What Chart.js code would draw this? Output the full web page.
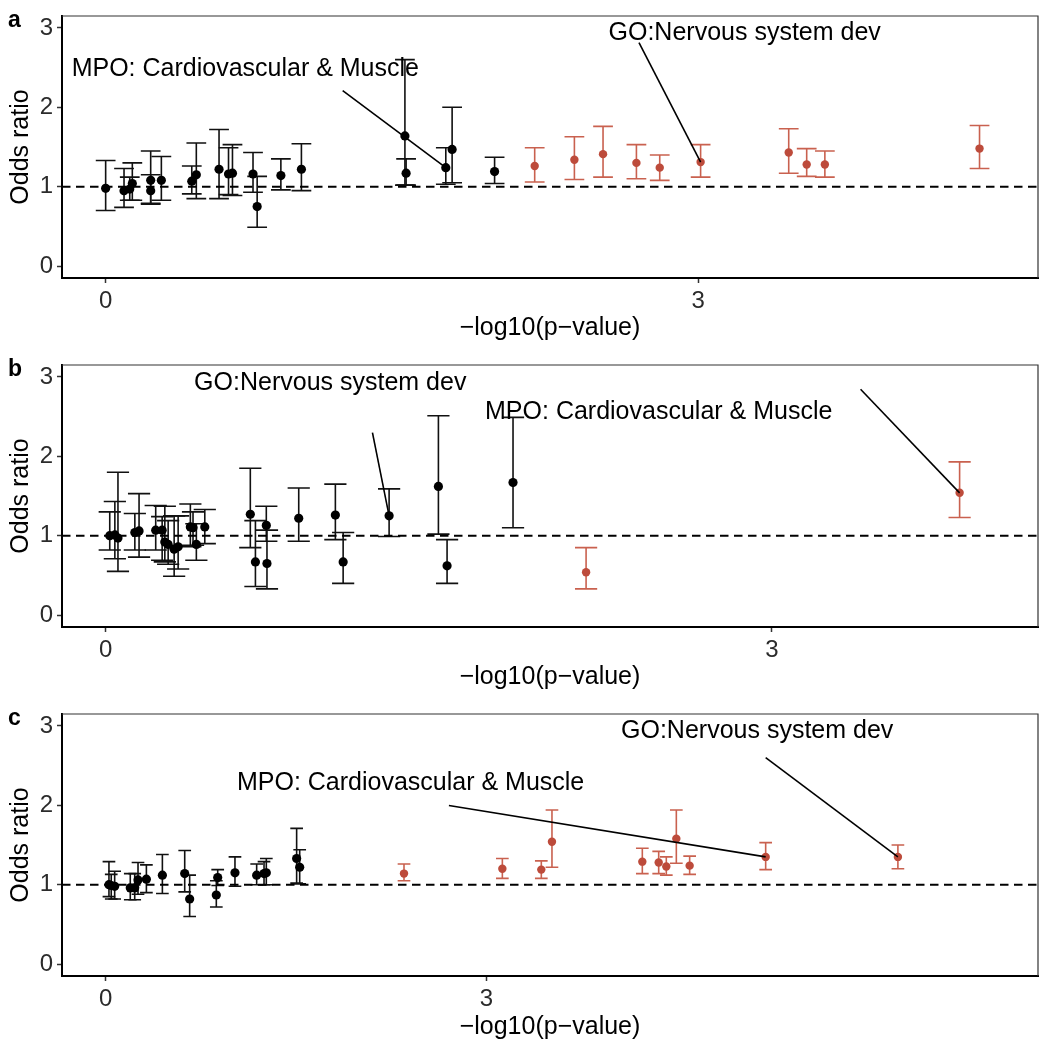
<!DOCTYPE html>
<html>
<head>
<meta charset="utf-8">
<script src="https://cdn.jsdelivr.net/npm/chart.js@4.4.1/dist/chart.umd.min.js"></script>
<style>
  body { margin: 0; background: #fff; }
  canvas { display: block; }
</style>
</head>
<body>
<canvas id="panelA" width="1050" height="349"></canvas>
<canvas id="panelB" width="1050" height="349"></canvas>
<canvas id="panelC" width="1050" height="350"></canvas>
<script>
// tick labels
const xTicks = [0, 3]
const yTicks = [0, 1, 2, 3]

// panel a
const aX  = [0.000, 0.093, 0.122, 0.135, 0.228, 0.228, 0.282, 0.436, 0.459, 0.574, 0.622, 0.642, 0.746, 0.767, 0.887, 0.991, 1.515, 1.521, 1.722, 1.754, 1.969]
const aOR = [0.98, 0.95, 0.97, 1.04, 1.08, 0.95, 1.08, 1.07, 1.15, 1.22, 1.16, 1.17, 1.16, 0.75, 1.14, 1.22, 1.64, 1.17, 1.24, 1.47, 1.19]
const aLo = [0.70, 0.74, 0.83, 0.83, 0.79, 0.78, 0.83, 0.91, 0.85, 0.85, 0.90, 0.89, 0.93, 0.49, 0.96, 0.95, 1.02, 1.02, 1.03, 1.05, 1.04]
const aHi = [1.33, 1.23, 1.12, 1.30, 1.45, 1.15, 1.38, 1.26, 1.55, 1.72, 1.49, 1.53, 1.43, 1.13, 1.35, 1.54, 2.60, 1.35, 1.49, 2.00, 1.37]
const aRedX  = [2.172, 2.373, 2.518, 2.687, 2.805, 3.012, 3.458, 3.549, 3.641, 4.424]
const aRedOR = [1.26, 1.34, 1.41, 1.30, 1.24, 1.31, 1.43, 1.28, 1.28, 1.48]
const aRedLo = [1.06, 1.09, 1.12, 1.10, 1.08, 1.12, 1.17, 1.13, 1.12, 1.23]
const aRedHi = [1.49, 1.63, 1.76, 1.53, 1.40, 1.53, 1.73, 1.48, 1.45, 1.77]

// panel b
const bX  = [0.018, 0.041, 0.055, 0.131, 0.150, 0.225, 0.254, 0.266, 0.281, 0.308, 0.326, 0.381, 0.393, 0.408, 0.446, 0.651, 0.674, 0.723, 0.726, 0.869, 1.034, 1.069, 1.276, 1.498, 1.537, 1.834]
const bOR = [1.00, 1.01, 0.97, 1.04, 1.06, 1.07, 1.07, 0.92, 0.89, 0.83, 0.86, 1.11, 1.10, 0.89, 1.11, 1.27, 0.67, 1.13, 0.65, 1.22, 1.26, 0.67, 1.25, 1.62, 0.62, 1.67]
const bLo = [0.82, 0.71, 0.55, 0.82, 0.73, 0.82, 0.69, 0.67, 0.64, 0.49, 0.58, 0.86, 0.88, 0.69, 0.90, 0.85, 0.36, 0.93, 0.33, 0.93, 0.95, 0.40, 0.99, 1.02, 0.40, 1.10]
const bHi = [1.30, 1.43, 1.80, 1.28, 1.53, 1.38, 1.24, 1.37, 1.19, 1.25, 1.25, 1.40, 1.30, 1.15, 1.33, 1.85, 1.19, 1.37, 1.07, 1.60, 1.65, 1.04, 1.59, 2.51, 0.95, 2.49]
const bRedX  = [2.163, 3.845]
const bRedOR = [0.54, 1.54]
const bRedLo = [0.33, 1.23]
const bRedHi = [0.85, 1.93]

// panel c
const cX  = [0.026, 0.044, 0.071, 0.194, 0.229, 0.255, 0.321, 0.447, 0.623, 0.662, 0.872, 0.883, 1.019, 1.190, 1.248, 1.266, 1.505, 1.529]
const cOR = [1.00, 0.99, 0.98, 0.96, 0.96, 1.06, 1.07, 1.12, 1.14, 0.82, 0.87, 1.09, 1.15, 1.12, 1.14, 1.15, 1.33, 1.22]
const cLo = [0.85, 0.82, 0.82, 0.81, 0.81, 0.88, 0.90, 0.89, 0.91, 0.60, 0.72, 0.99, 0.98, 1.00, 1.00, 1.00, 1.02, 1.01]
const cHi = [1.29, 1.13, 1.17, 1.14, 1.14, 1.28, 1.25, 1.38, 1.43, 1.12, 1.05, 1.19, 1.35, 1.26, 1.29, 1.33, 1.71, 1.44]
const cRedX  = [2.351, 3.126, 3.433, 3.517, 4.229, 4.358, 4.418, 4.497, 4.602, 5.201, 6.243]
const cRedOR = [1.14, 1.20, 1.19, 1.54, 1.29, 1.28, 1.23, 1.58, 1.24, 1.35, 1.35]
const cRedLo = [1.05, 1.08, 1.08, 1.22, 1.14, 1.14, 1.12, 1.27, 1.13, 1.19, 1.20]
const cRedHi = [1.26, 1.33, 1.30, 1.94, 1.46, 1.42, 1.35, 1.94, 1.36, 1.53, 1.50]

// labelled gene sets (text centre, start of the connector, point it points to)
const aNotes = [
  { text: 'MPO: Cardiovascular & Muscle', x: 0.707, y: 2.485, fromX: 1.20, fromY: 2.21, toX: aX[18], toY: aOR[18] },
  { text: 'GO:Nervous system dev', x: 3.235, y: 2.938, fromX: 2.70, fromY: 2.815, toX: aRedX[5], toY: aRedOR[5] },
]
const bNotes = [
  { text: 'GO:Nervous system dev', x: 1.011, y: 2.927, fromX: 1.201, fromY: 2.298, toX: bX[22], toY: bOR[22] },
  { text: 'MPO: Cardiovascular & Muscle', x: 2.49, y: 2.557, fromX: 3.399, fromY: 2.845, toX: bRedX[1], toY: bRedOR[1] },
]
const cNotes = [
  { text: 'MPO: Cardiovascular & Muscle', x: 2.403, y: 2.284, fromX: 2.705, fromY: 1.998, toX: cRedX[9], toY: cRedOR[9] },
  { text: 'GO:Nervous system dev', x: 5.134, y: 2.94, fromX: 5.201, fromY: 2.60, toX: cRedX[10], toY: cRedOR[10] },
]

Chart.defaults.font.family = '"Liberation Sans", Arial, Helvetica, sans-serif'

const RED = '#bd4b3b'
const RED_BAR = '#c9614f'
const CAP = 0.05 // half width of the error bar caps, in x units

const toPts = (xs, ys) => xs.map((x, i) => ({ x: x, y: ys[i] }))

// error bars, drawn under the points
const errorBars = {
  id: 'errorBars',
  beforeDatasetsDraw(chart) {
    const { ctx, scales: { x, y } } = chart
    ctx.save()
    chart.data.datasets.forEach(ds => {
      if (!ds.errLo) return
      ctx.strokeStyle = ds.errColor
      ctx.lineWidth = 1.6
      ds.data.forEach((p, i) => {
        const px = x.getPixelForValue(p.x)
        const w = x.getPixelForValue(p.x + CAP) - px
        const lo = y.getPixelForValue(ds.errLo[i])
        const hi = y.getPixelForValue(ds.errHi[i])
        ctx.beginPath()
        ctx.moveTo(px, lo); ctx.lineTo(px, hi)
        ctx.moveTo(px - w, lo); ctx.lineTo(px + w, lo)
        ctx.moveTo(px - w, hi); ctx.lineTo(px + w, hi)
        ctx.stroke()
      })
    })
    ctx.restore()
  }
}

function makePanel(id, letter, xMin, xMax, black, red, notes) {
  const canvas = document.getElementById(id)
  const h = canvas.height

  const extras = {
    id: 'extras',
    beforeDatasetsDraw(chart) {
      // thin top and right sides of the panel box
      const { ctx, chartArea: a } = chart
      ctx.save()
      ctx.strokeStyle = '#333'
      ctx.lineWidth = 1.2
      ctx.beginPath()
      ctx.moveTo(a.left, a.top); ctx.lineTo(a.right, a.top); ctx.lineTo(a.right, a.bottom)
      ctx.stroke()
      ctx.restore()
    },
    afterDatasetsDraw(chart) {
      const { ctx, scales: { x, y } } = chart
      ctx.save()
      ctx.strokeStyle = '#000'
      ctx.lineWidth = 1.6
      notes.forEach(n => {
        ctx.beginPath()
        ctx.moveTo(x.getPixelForValue(n.fromX), y.getPixelForValue(n.fromY))
        ctx.lineTo(x.getPixelForValue(n.toX), y.getPixelForValue(n.toY))
        ctx.stroke()
      })
      ctx.fillStyle = '#000'
      ctx.font = '25px "Liberation Sans", Arial, sans-serif'
      ctx.textAlign = 'center'
      ctx.textBaseline = 'middle'
      notes.forEach(n => {
        ctx.fillText(n.text, x.getPixelForValue(n.x), y.getPixelForValue(n.y))
      })
      ctx.restore()
    },
    afterDraw(chart) {
      const { ctx } = chart
      ctx.save()
      ctx.fillStyle = '#000'
      ctx.font = 'bold 23px "Liberation Sans", Arial, sans-serif'
      ctx.textBaseline = 'alphabetic'
      ctx.fillText(letter, 8, 27)
      ctx.restore()
    }
  }

  return new Chart(canvas, {
    type: 'scatter',
    data: {
      datasets: [
        {
          data: toPts(black.x, black.or),
          errLo: black.lo, errHi: black.hi, errColor: '#111',
          backgroundColor: '#000', borderColor: '#000', pointRadius: 4.6, borderWidth: 0
        },
        {
          data: toPts(red.x, red.or),
          errLo: red.lo, errHi: red.hi, errColor: RED_BAR,
          backgroundColor: RED, borderColor: RED, pointRadius: 4.2, borderWidth: 0
        },
        {
          type: 'line',
          data: [{ x: xMin, y: 1 }, { x: xMax, y: 1 }],
          borderColor: '#000', borderWidth: 2, borderDash: [8.5, 5.5],
          pointRadius: 0, fill: false
        }
      ]
    },
    options: {
      responsive: false,
      animation: false,
      devicePixelRatio: 1,
      layout: { padding: { top: 12, right: 12, left: 0, bottom: 0 } },
      plugins: { legend: { display: false }, tooltip: { enabled: false } },
      scales: {
        x: {
          type: 'linear', min: xMin, max: xMax,
          afterBuildTicks: s => { s.ticks = xTicks.map(v => ({ value: v })) },
          afterFit: s => { s.height = h - 278 },
          grid: { drawOnChartArea: false, tickLength: 5, tickColor: '#333', tickWidth: 1.5 },
          border: { color: '#000', width: 2 },
          ticks: { font: { size: 24, lineHeight: 1 }, color: '#2b2b2b', padding: 6, maxRotation: 0 },
          title: { display: true, text: '−log10(p−value)', color: '#000', font: { size: 25 }, padding: { top: 0, bottom: 6 } }
        },
        y: {
          type: 'linear', min: -0.15, max: 3.15,
          afterBuildTicks: s => { s.ticks = yTicks.map(v => ({ value: v })) },
          afterFit: s => { s.width = 62 },
          grid: { drawOnChartArea: false, tickLength: 5, tickColor: '#333', tickWidth: 1.5 },
          border: { color: '#000', width: 2 },
          ticks: { font: { size: 24, lineHeight: 1 }, color: '#2b2b2b', padding: 4 },
          title: { display: true, text: 'Odds ratio', color: '#000', font: { size: 25 }, padding: { top: 6, bottom: 0 } }
        }
      }
    },
    plugins: [errorBars, extras]
  })
}

makePanel('panelA', 'a', -0.221, 4.72,
  { x: aX, or: aOR, lo: aLo, hi: aHi },
  { x: aRedX, or: aRedOR, lo: aRedLo, hi: aRedHi }, aNotes)

makePanel('panelB', 'b', -0.197, 4.198,
  { x: bX, or: bOR, lo: bLo, hi: bHi },
  { x: bRedX, or: bRedOR, lo: bRedLo, hi: bRedHi }, bNotes)

makePanel('panelC', 'c', -0.344, 7.347,
  { x: cX, or: cOR, lo: cLo, hi: cHi },
  { x: cRedX, or: cRedOR, lo: cRedLo, hi: cRedHi }, cNotes)
</script>
</body>
</html>
